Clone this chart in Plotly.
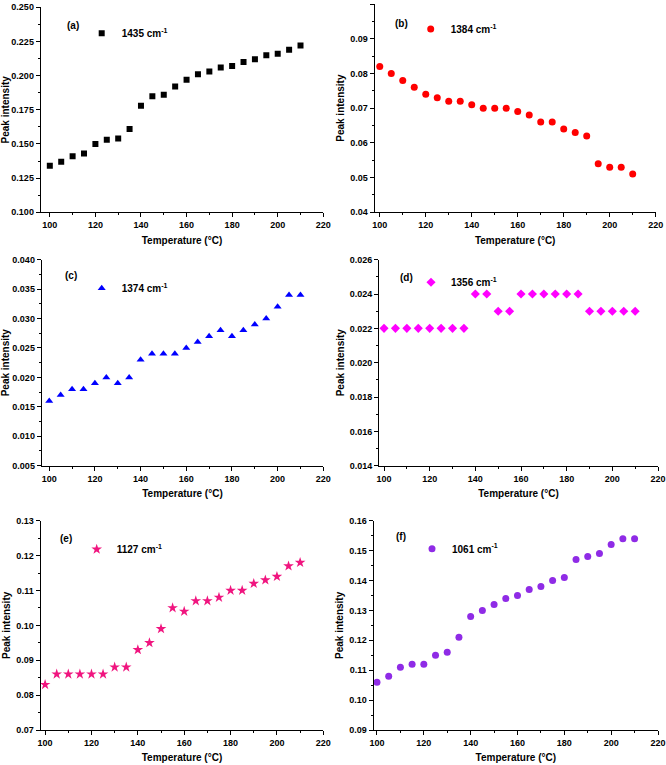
import plotly.graph_objects as go

W, H = 666, 765

temperature = [100, 105, 110, 115, 120, 125, 130, 135, 140, 145, 150, 155,
               160, 165, 170, 175, 180, 185, 190, 195, 200, 205, 210]

peak_1435 = [0.134, 0.137, 0.141, 0.143, 0.150, 0.153, 0.154, 0.161, 0.178, 0.185, 0.186, 0.192,
             0.197, 0.201, 0.203, 0.206, 0.207, 0.210, 0.212, 0.215, 0.216, 0.219, 0.222]
peak_1384 = [0.082, 0.080, 0.078, 0.076, 0.074, 0.073, 0.072, 0.072, 0.071, 0.070, 0.070, 0.070,
             0.069, 0.068, 0.066, 0.066, 0.064, 0.063, 0.062, 0.054, 0.053, 0.053, 0.051]
peak_1374 = [0.016, 0.017, 0.018, 0.018, 0.019, 0.020, 0.019, 0.020, 0.023, 0.024, 0.024, 0.024,
             0.025, 0.026, 0.027, 0.028, 0.027, 0.028, 0.029, 0.030, 0.032, 0.034, 0.034]
peak_1356 = [0.022, 0.022, 0.022, 0.022, 0.022, 0.022, 0.022, 0.022, 0.024, 0.024, 0.023, 0.023,
             0.024, 0.024, 0.024, 0.024, 0.024, 0.024, 0.023, 0.023, 0.023, 0.023, 0.023]
peak_1127 = [0.083, 0.086, 0.086, 0.086, 0.086, 0.086, 0.088, 0.088, 0.093, 0.095, 0.099, 0.105,
             0.104, 0.107, 0.107, 0.108, 0.110, 0.110, 0.112, 0.113, 0.114, 0.117, 0.118]
peak_1061 = [0.106, 0.108, 0.111, 0.112, 0.112, 0.115, 0.116, 0.121, 0.128, 0.130, 0.132, 0.134,
             0.135, 0.137, 0.138, 0.140, 0.141, 0.147, 0.148, 0.149, 0.152, 0.154, 0.154]

panel_labels = ["(a)", "(b)", "(c)", "(d)", "(e)", "(f)"]
band_names = ["1435 cm<sup>-1</sup>", "1384 cm<sup>-1</sup>", "1374 cm<sup>-1</sup>",
              "1356 cm<sup>-1</sup>", "1127 cm<sup>-1</sup>", "1061 cm<sup>-1</sup>"]
series = [peak_1435, peak_1384, peak_1374, peak_1356, peak_1127, peak_1061]

# y-axis ranges, major steps, tick formats
y_ranges = [(0.100, 0.250), (0.04, 0.10), (0.005, 0.040), (0.014, 0.026), (0.07, 0.13), (0.09, 0.16)]
y_steps = [0.025, 0.01, 0.005, 0.002, 0.01, 0.01]
y_formats = [".3f", ".2f", ".3f", ".3f", ".2f", ".2f"]
x_starts = [96.0, 97.8, 96.7, 97.8, 98.1, 98.6]

# plot areas in pixels: left, right, top, bottom
boxes = [
    (40.7, 323.3, 7.3, 212.3),
    (374.7, 655.7, 4.0, 212.3),
    (41.7, 323.3, 259.7, 465.7),
    (379.0, 658.0, 259.7, 465.7),
    (40.7, 323.3, 520.7, 730.0),
    (373.7, 658.0, 520.7, 730.0),
]
# legend marker offset and panel-label offset from each plot area's top-left
legend_offsets = [(61, 26), (56, 25), (60, 28.6), (52, 22.6), (56, 28.6), (58.3, 28)]
label_offsets = [(24, 18), (18.3, 19.3), (21.6, 16), (19, 17.6), (17.6, 17.6), (20, 16)]

markers = [
    dict(symbol="square", size=6, color="#000000"),
    dict(symbol="circle", size=7, color="#FF0000"),
    dict(symbol="triangle-up", size=7, color="#0000FF"),
    dict(symbol="diamond", size=7, color="#FF00FF"),
    dict(symbol="star", size=8, color="#F0157F"),
    dict(symbol="circle", size=7, color="#8F2BE6"),
]

font_family = "Liberation Sans, Arial, sans-serif"
tick_font = dict(family=font_family, size=9, color="black", weight="bold")
title_font = dict(family=font_family, size=10, color="black", weight="bold")

fig = go.Figure()
layout = dict(
    width=W, height=H, autosize=False,
    margin=dict(l=0, r=0, t=0, b=0),
    paper_bgcolor="white", plot_bgcolor="white",
    annotations=[],
)

for i in range(6):
    n = "" if i == 0 else str(i + 1)
    left, right, top, bottom = boxes[i]
    lg = "legend" + n
    fig.add_trace(go.Scatter(
        x=temperature, y=series[i], mode="markers",
        marker=markers[i], name=band_names[i],
        xaxis="x" + n, yaxis="y" + n, legend=lg, showlegend=True,
    ))
    y0, y1 = y_ranges[i]
    layout["xaxis" + n] = dict(
        domain=[left / W, right / W], anchor="y" + n,
        range=[x_starts[i], 220], tick0=100, dtick=20,
        ticks="outside", ticklen=4, tickwidth=1, tickcolor="black",
        minor=dict(ticks="outside", ticklen=2, dtick=10, tick0=100, tickcolor="black"),
        showline=True, linecolor="black", linewidth=1, showgrid=False, zeroline=False,
        tickfont=tick_font, automargin=False,
        title=dict(text="Temperature (°C)", font=title_font, standoff=7),
    )
    layout["yaxis" + n] = dict(
        domain=[1 - bottom / H, 1 - top / H], anchor="x" + n,
        range=[y0, y1], tick0=y0, dtick=y_steps[i], tickformat=y_formats[i],
        ticks="outside", ticklen=4, tickwidth=1, tickcolor="black",
        minor=dict(ticks="outside", ticklen=2, dtick=y_steps[i] / 2, tick0=y0, tickcolor="black"),
        showline=True, linecolor="black", linewidth=1, showgrid=False, zeroline=False,
        tickfont=tick_font, automargin=False,
        title=dict(text="Peak intensity", font=title_font, standoff=3),
    )
    lx, ly = legend_offsets[i]
    layout[lg] = dict(
        x=(left + lx - 20) / W, y=1 - (top + ly) / H, xanchor="left", yanchor="middle",
        bgcolor="rgba(0,0,0,0)", borderwidth=0,
        font=dict(family=font_family, size=10, color="black", weight="bold"),
    )
    ax, ay = label_offsets[i]
    layout["annotations"].append(dict(
        text=panel_labels[i], xref="paper", yref="paper",
        x=(left + ax) / W, y=1 - (top + ay) / H, xanchor="left", yanchor="middle",
        showarrow=False, font=dict(family=font_family, size=10, color="black", weight="bold"),
    ))

fig.update_layout(**layout)
# drop the browser's default body margin so the figure sits at the page corner
fig.write_html("out.html", config={"displayModeBar": False},
               post_script="document.body.style.margin='0px';")
